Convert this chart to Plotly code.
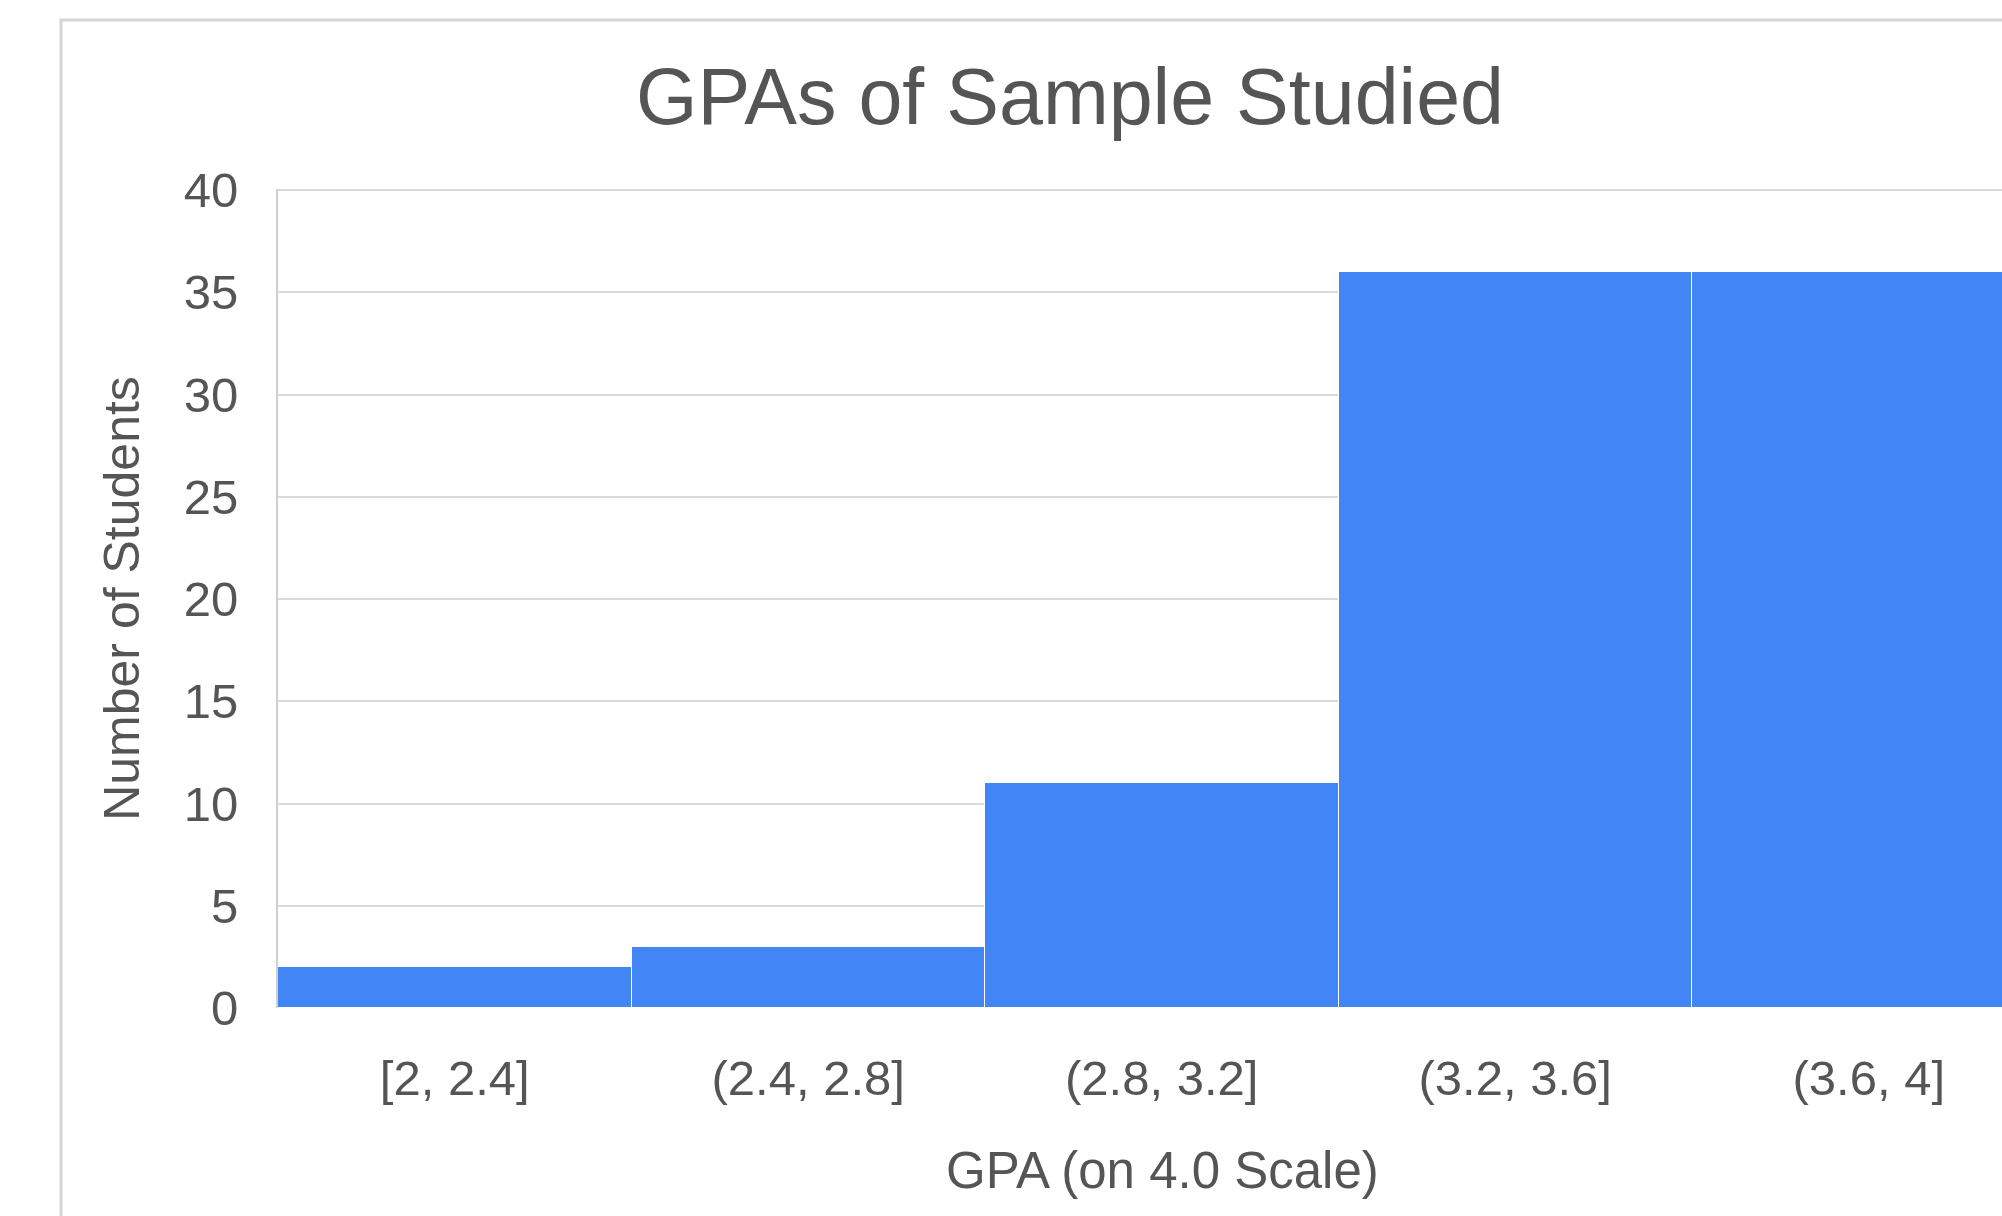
import plotly.graph_objects as go

categories = ["[2, 2.4]", "(2.4, 2.8]", "(2.8, 3.2]", "(3.2, 3.6]", "(3.6, 4]"]
counts = [2, 3, 11, 36, 36]
y_ticks = [0, 5, 10, 15, 20, 25, 30, 35, 40]

W, H = 2002, 1216
L, R, T, B = 278, 0, 189, 208
pw, ph = W - L - R, H - T - B

FONT = "Liberation Sans, Arial, Helvetica, sans-serif"
TXT = "#555555"

fig = go.Figure()
fig.add_trace(go.Bar(
    x=list(range(len(categories))), y=counts,
    marker=dict(color="#4285F4", line=dict(color="white", width=1)),
    width=1.0, hoverinfo="x+y",
))

fig.update_layout(
    width=W, height=H,
    margin=dict(l=L, r=R, t=T, b=B),
    paper_bgcolor="white", plot_bgcolor="white",
    bargap=0, showlegend=False,
    font=dict(family=FONT, color=TXT),
    title=dict(text="GPAs of Sample Studied", x=1070 / W, xanchor="center",
               y=1 - 96 / H, yanchor="middle", xref="container", yref="container",
               font=dict(size=79, color=TXT, family=FONT)),
    xaxis=dict(
        tickmode="array", tickvals=list(range(len(categories))), ticktext=categories,
        range=[-0.5, -0.5 + pw / 353.5],
        showgrid=False, zeroline=False, showline=False,
        ticks="", tickfont=dict(size=49, color=TXT),
        ticklabelstandoff=37,
    ),
    yaxis=dict(
        range=[0, 40.05], tickvals=y_ticks,
        showgrid=True, gridcolor="#d9d9d9", gridwidth=2,
        zeroline=False, showline=True, linecolor="#d0d0d0", linewidth=2,
        ticks="", tickfont=dict(size=49, color=TXT),
        ticklabelstandoff=28,
        title=dict(text="Number of Students", font=dict(size=50, color=TXT), standoff=28),
    ),
)

# x-axis title, centred under the full (partly cropped) category band
fig.add_annotation(text="GPA (on 4.0 Scale)", xref="paper", yref="paper",
                   x=(1162 - L) / pw, y=-(1170 - (H - B)) / ph,
                   xanchor="center", yanchor="middle", showarrow=False,
                   font=dict(size=51, color=TXT, family=FONT))

# outer chart border (light gray frame)
fig.add_shape(type="rect", xref="paper", yref="paper",
              x0=(61 - L) / pw, x1=1.05, y0=-0.4, y1=1 + (T - 20) / ph,
              line=dict(color="#d6d6d6", width=3), fillcolor="rgba(0,0,0,0)", layer="below")

fig.write_html("out.html", config={"displayModeBar": False},
               post_script="document.body.style.margin='0';document.body.style.overflow='hidden';")
